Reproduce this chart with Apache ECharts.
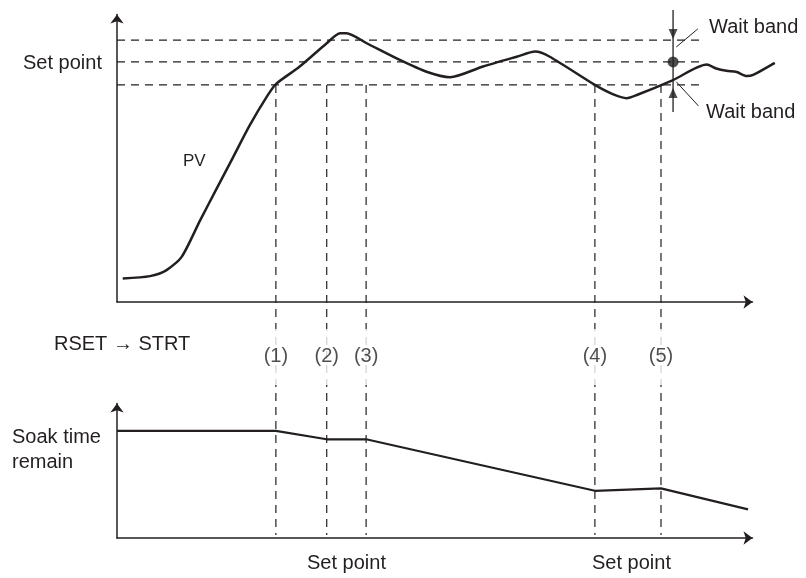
<!DOCTYPE html>
<html>
<head>
<meta charset="utf-8">
<script src="https://cdn.jsdelivr.net/npm/echarts@6/dist/echarts.min.js"></script>
<style>
  html, body { margin: 0; padding: 0; background: #fff; }
  #main { width: 806px; height: 578px; }
</style>
</head>
<body>
<div id="main"></div>
<script>
  // time axis 0..100, PV axis 0..100, soak axis 0..100 (schematic units)
  var markTimes = [25.0, 33.0, 39.2, 75.2, 85.6];
  var markNames = ['(1)', '(2)', '(3)', '(4)', '(5)'];

  // set point and wait band (PV units)
  var bandHigh = 91.1;
  var setPoint = 83.5;
  var bandLow = 75.5;
  var bandEnd = 91.7;
  var guideBottom = -81; // guides run down into the soak chart

  // PV curve (runs a little past the arrow of the time axis)
  var pvTime = [0.9, 5.2, 7.8, 10.2, 13.1, 15.7, 18.3, 20.9, 23.6, 25.0, 28.7, 33.0, 35.1, 36.1, 39.3,
    44.5, 48.7, 52.4, 57.6, 62.9, 65.8, 68.1, 75.2, 78.0, 80.2, 81.8, 87.5, 92.8, 94.3, 95.9, 97.5,
    99.1, 100.1, 103.5];
  var pvValue = [8.2, 9.0, 11.1, 15.8, 28.5, 39.5, 50.5, 61.5, 71.5, 75.8, 81.8, 90.0, 93.5, 93.5, 90.0,
    84.2, 80.1, 78.2, 81.9, 85.3, 87.1, 85.3, 75.5, 72.3, 70.9, 72.0, 77.2, 82.6, 81.2, 80.4, 80.0,
    78.6, 79.0, 83.2];

  // soak time remain
  var soakTime = [0, 25.0, 33.0, 39.2, 75.2, 85.6, 99.3];
  var soakValue = [79.6, 79.6, 73.4, 73.4, 35.1, 36.9, 21.3];

  // wait band marker
  var waitX = 87.5;
  var waitTop = 101.6;
  var waitBottom = 66.1;
  var arrowDown = 93.2;
  var arrowUp = 72.7;
  var leaderTop = [[88.0, 88.7], [91.4, 95.0]];
  var leaderBottom = [[88.0, 76.6], [91.5, 68.2]];

  var markLabelY = -19.1;

  var ink = '#231f20';
  var font = 'Liberation Sans, Arial, sans-serif';

  function zip(xs, ys) {
    return xs.map(function (x, i) { return [x, ys[i]]; });
  }

  var axisLine = {
    show: true,
    symbol: ['none', 'arrow'],
    symbolSize: [10, 9],
    lineStyle: { color: ink, width: 1.5 }
  };
  function axis(grid, max, visible) {
    return {
      type: 'value', gridIndex: grid, min: 0, max: max, show: visible,
      axisLine: axisLine,
      axisTick: { show: false },
      axisLabel: { show: false },
      splitLine: { show: false }
    };
  }

  var dash = { color: ink, width: 1.2, type: [8, 6] };
  // top data sits on grid 2: same scale as grid 0 but wide enough for the PV tail
  var TOP = { xAxisIndex: 2, yAxisIndex: 2 };

  function line(data, style, extra) {
    var s = { type: 'line', xAxisIndex: TOP.xAxisIndex, yAxisIndex: TOP.yAxisIndex, clip: false,
      data: data, symbol: 'none', lineStyle: style, silent: true };
    for (var k in extra) s[k] = extra[k];
    return s;
  }

  var series = [];

  // set point / wait band lines
  [bandHigh, setPoint, bandLow].forEach(function (v) {
    series.push(line([[0, v], [bandEnd, v]], dash));
  });

  // vertical guides
  markTimes.forEach(function (t) {
    series.push(line([[t, bandLow], [t, guideBottom]], dash));
  });

  // PV
  series.push(line(zip(pvTime, pvValue), { color: ink, width: 2.5 }, { smooth: 0.25, z: 5 }));

  // soak time remain
  series.push({
    type: 'line', xAxisIndex: 1, yAxisIndex: 1,
    data: zip(soakTime, soakValue),
    symbol: 'none',
    lineStyle: { color: ink, width: 2.2 }, z: 5
  });

  // wait band marker
  series.push(line([[waitX, waitTop], [waitX, waitBottom]], { color: ink, width: 1.3 }, { z: 6 }));
  [leaderTop, leaderBottom].forEach(function (seg) {
    series.push(line(seg, { color: ink, width: 1 }, { z: 6 }));
  });
  series.push({
    type: 'scatter', xAxisIndex: 2, yAxisIndex: 2, clip: false,
    symbol: 'triangle', symbolSize: [9, 10], z: 7,
    itemStyle: { color: ink },
    data: [
      { value: [waitX, arrowDown], symbolRotate: 180 },
      { value: [waitX, arrowUp], symbolRotate: 0 }
    ]
  });
  series.push({
    type: 'scatter', xAxisIndex: 2, yAxisIndex: 2,
    symbol: 'circle', symbolSize: 11, z: 7,
    itemStyle: { color: ink },
    data: [[waitX, setPoint]]
  });

  // (1)..(5) labels
  series.push({
    type: 'scatter', xAxisIndex: 2, yAxisIndex: 2, clip: false,
    symbolSize: 0, z: 10,
    data: markTimes.map(function (t, i) { return { value: [t, markLabelY], name: markNames[i] }; }),
    label: {
      show: true, position: 'inside', formatter: '{b}',
      color: ink, fontSize: 20, fontFamily: font,
      backgroundColor: '#fff', padding: [18, 3]
    }
  });

  function txt(x, y, text, extra) {
    var style = { text: text, fill: ink, fontSize: 20, fontFamily: font, verticalAlign: 'middle' };
    for (var k in extra) style[k] = extra[k];
    return { type: 'text', x: x, y: y, z: 20, style: style };
  }

  var unit = (806 - 53.5 - 117) / 100; // px per time unit on the visible axis
  var tailMax = 104;

  var chart = echarts.init(document.getElementById('main'), null, { renderer: 'canvas' });
  chart.setOption({
    backgroundColor: '#fff',
    animation: false,
    grid: [
      { left: 117, right: 53.5, top: 14.5, bottom: 276 },
      { left: 117, right: 53.5, top: 403.5, bottom: 40 },
      { left: 117, right: 806 - 117 - tailMax * unit, top: 14.5, bottom: 276 }
    ],
    xAxis: [axis(0, 100, true), axis(1, 100, true), axis(2, tailMax, false)],
    yAxis: [axis(0, 100, true), axis(1, 100, true), axis(2, 100, false)],
    series: series,
    graphic: [
      txt(23, 63, 'Set point'),
      txt(183, 161, 'PV', { fontSize: 17 }),
      txt(709, 27, 'Wait band'),
      txt(706, 112, 'Wait band'),
      txt(54, 344, 'RSET \u2192 STRT'),
      txt(12, 437, 'Soak time'),
      txt(12, 462, 'remain'),
      txt(346.5, 563, 'Set point', { align: 'center' }),
      txt(631.5, 563, 'Set point', { align: 'center' })
    ]
  });
</script>
</body>
</html>
